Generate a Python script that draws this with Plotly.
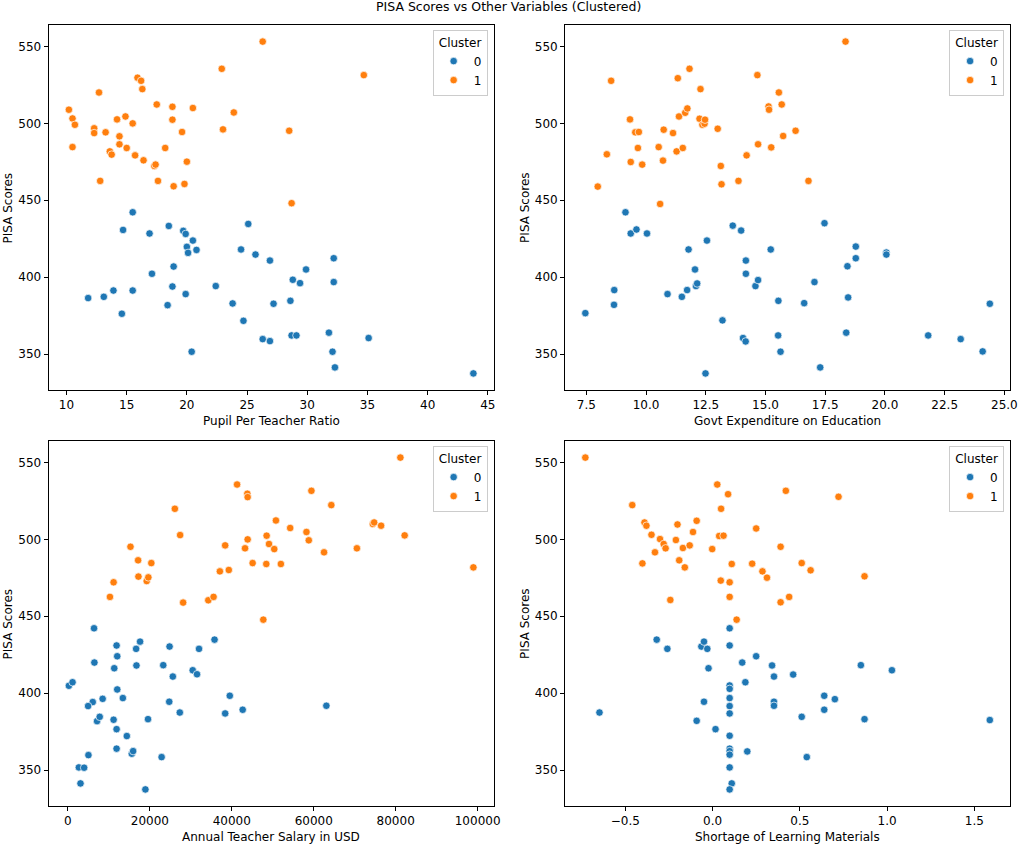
import plotly.graph_objects as go

# ---------------- data ----------------
# Panel 1: Pupil Per Teacher Ratio
pupil_c0_x = [15.5, 14.7, 18.5, 16.9, 19.7, 19.9, 20.5, 20.0, 20.1, 20.8, 24.5, 25.1, 25.7, 18.9, 17.1,
              18.8, 22.4, 19.9, 15.5, 13.9, 13.1, 11.8, 18.4, 23.8, 14.6, 24.7, 20.4,
              26.9, 32.2, 29.9, 28.8, 29.4, 32.2, 27.2, 28.6, 26.3, 26.9, 28.7, 29.1, 31.8, 35.1, 32.1, 32.3, 43.8]
pupil_c0_y = [442.2, 430.7, 433.3, 428.4, 430.1, 428.1, 423.8, 419.7, 415.8, 417.7, 418.0, 434.6, 414.7, 406.9, 402.2,
              393.9, 394.2, 389.0, 391.3, 391.3, 387.2, 386.4, 381.8, 382.9, 376.2, 371.6, 351.5,
              410.8, 412.3, 405.0, 398.3, 396.1, 396.8, 382.7, 384.6, 359.7, 358.4, 362.1, 362.1, 363.9, 360.4, 351.5, 341.3, 337.4]
pupil_c1_x = [10.2, 10.5, 10.7, 10.5, 12.7, 12.3, 12.3, 13.25, 12.8, 13.6, 13.75, 14.2, 14.9, 14.4, 14.4,
              15.0, 15.5, 15.7, 15.9, 16.2, 16.3, 16.4, 17.3, 17.4, 17.6, 17.5, 18.2, 18.8, 18.8, 18.9,
              19.6, 19.8, 20.0, 20.5, 22.9, 23.0, 23.9, 26.3, 34.7, 28.5, 28.7]
pupil_c1_y = [508.9, 503.2, 499.1, 484.6, 520.1, 496.8, 493.7, 494.2, 462.6, 481.8, 479.7, 502.6, 504.5, 491.6, 486.4,
              484.0, 500.0, 479.2, 529.7, 527.7, 522.3, 476.0, 472.3, 473.2, 462.6, 512.3, 484.0, 510.8, 502.4, 459.1,
              494.4, 460.6, 475.1, 510.0, 535.5, 496.1, 507.1, 553.2, 531.4, 495.2, 448.1]

# Panel 2: Govt Expenditure on Education
govt_c0_x = [7.46, 8.67, 8.66, 9.14, 9.36, 9.60, 10.04, 10.90, 11.50, 11.72, 11.78, 12.05, 12.09, 12.14, 12.55,
             13.20, 12.49, 13.63, 13.98, 14.18, 14.18, 14.06, 14.17, 14.58, 14.69,
             15.22, 17.47, 18.78, 18.78, 20.06, 20.06, 18.43, 17.05, 15.54, 16.62, 18.46, 24.39, 15.53, 18.38,
             21.81, 23.17, 24.09, 15.63, 17.29]
govt_c0_y = [376.6, 391.6, 382.0, 442.2, 428.4, 431.0, 428.4, 389.0, 387.2, 391.6, 418.0, 405.0, 394.2, 395.9, 423.8,
             371.9, 337.4, 433.5, 430.3, 410.8, 402.2, 360.4, 358.2, 394.2, 398.1,
             418.0, 435.1, 419.9, 412.3, 416.0, 414.7, 407.1, 396.8, 384.6, 383.1, 386.8, 382.7, 362.1, 363.9,
             362.1, 359.7, 351.7, 351.5, 341.3]
govt_c1_x = [8.54, 8.36, 7.98, 9.33, 9.55, 9.70, 9.66, 9.36, 9.84, 10.59, 10.53, 10.74, 10.71, 11.13, 11.28,
             11.54, 11.33, 11.38, 11.64, 11.73, 11.82, 12.28, 12.24, 12.36, 12.45, 12.47, 13.0, 13.13, 13.16,
             13.87, 14.21, 14.66, 14.69, 18.35, 15.56, 15.13, 15.15, 15.68, 16.26, 15.74, 15.24, 16.80]
govt_c1_y = [527.7, 479.9, 458.9, 502.6, 494.2, 494.4, 484.0, 474.9, 473.2, 447.6, 484.6, 495.9, 475.8, 493.7, 481.8,
             484.0, 529.4, 504.5, 506.9, 509.7, 535.5, 522.3, 503.0, 499.1, 499.8, 502.4, 496.5, 472.3, 460.4,
             462.6, 479.2, 531.4, 486.4, 553.2, 520.1, 511.0, 508.9, 512.3, 495.2, 491.8, 484.4, 462.6]

# Panel 3: Annual Teacher Salary in USD
salary_c0_x = [240, 1130, 6380, 6460, 6060, 4930, 8480, 7110, 7760, 2670, 3960, 3070, 5010, 11880, 12040,
               11310, 12040, 13410, 11150, 11880, 11880, 14380, 15590, 15920, 16650, 17610, 16730, 19550, 18910,
               22870, 23270, 24810, 25610, 24730, 27310, 30460, 31510, 32000, 35790, 39510, 38380, 42660, 63080]
salary_c0_y = [404.8, 407.1, 442.2, 419.9, 394.2, 391.6, 396.3, 381.8, 384.6, 351.7, 351.5, 341.3, 359.7, 431.0, 424.0,
               416.2, 402.4, 396.8, 382.7, 376.6, 363.9, 372.1, 360.6, 362.3, 428.8, 433.5, 418.0, 383.1, 337.4,
               358.4, 418.2, 430.3, 410.8, 394.4, 387.4, 414.9, 412.3, 428.8, 434.8, 398.3, 386.8, 389.2, 391.8]
salary_c1_x = [10260, 11150, 15270, 17130, 17210, 19230, 19630, 20360, 26100, 27390, 28120, 34260, 35550, 37090,
               38380, 39270, 41290, 43230, 43790, 43870, 43870, 45090,
               47690, 48500, 49080, 50360, 50770, 48420, 51980, 54250, 58220, 58790, 59430, 62510, 64290, 70530,
               74420, 74740, 76440, 81140, 82190, 98960]
salary_c1_y = [462.6, 472.1, 495.2, 486.4, 475.8, 472.9, 475.3, 484.6, 519.9, 502.8, 458.9, 460.4, 462.6, 479.2,
               496.1, 480.1, 535.7, 494.2, 529.7, 527.5, 500.0, 484.6,
               447.8, 502.4, 497.0, 493.7, 512.3, 484.0, 484.0, 507.4, 504.8, 499.4, 531.6, 491.6, 522.3, 494.2,
               510.0, 511.0, 508.9, 553.2, 502.6, 481.8]

# Panel 4: Shortage of Learning Materials
short_c0_x = [-0.648, -0.320, -0.259, -0.064, -0.049, -0.030, -0.023, -0.049, -0.091, 0.017, 0.098, 0.098, 0.098,
              0.098, 0.098, 0.098, 0.098, 0.098, 0.098, 0.098, 0.098, 0.098, 0.110, 0.098, 0.170, 0.188, 0.199,
              0.250, 0.341, 0.352, 0.462, 0.352, 0.352, 0.511, 0.540, 0.640, 0.640, 0.701, 0.850, 0.871, 1.028, 1.589]
short_c0_y = [387.4, 434.8, 428.8, 430.3, 433.5, 428.8, 416.2, 394.4, 382.0, 376.6, 442.2, 431.0, 405.0,
              402.8, 396.8, 391.6, 386.8, 372.3, 363.9, 362.3, 360.0, 351.7, 341.3, 337.4, 419.9, 407.1, 362.1,
              424.0, 418.0, 410.8, 412.1, 394.4, 391.8, 384.6, 358.4, 398.3, 389.2, 396.1, 418.2, 383.1, 414.9, 382.5]
short_c1_x = [-0.729, -0.460, -0.390, -0.379, -0.350, -0.402, -0.330, -0.301, -0.280, -0.269, -0.242, -0.210,
              -0.201, -0.191, -0.170, -0.159, -0.131, -0.112, -0.091, -0.002, 0.027, 0.038, 0.063, 0.049, 0.089,
              0.047, 0.098, 0.098, 0.110, 0.138, 0.227, 0.250, 0.286,
              0.312, 0.390, 0.420, 0.511, 0.562, 0.439, 0.390, 0.722, 0.871]
short_c1_y = [553.2, 522.3, 511.0, 508.9, 503.0, 484.4, 491.6, 500.2, 497.0, 494.2, 460.6, 499.6,
              509.7, 486.4, 494.4, 481.8, 496.1, 504.8, 512.1, 493.7, 535.7, 502.2, 502.4, 519.9, 529.4,
              473.2, 472.1, 462.6, 484.0, 447.8, 484.2, 507.1, 479.2,
              475.1, 495.2, 531.6, 484.6, 479.9, 462.6, 459.1, 527.7, 476.0]

x_labels = ["Pupil Per Teacher Ratio", "Govt Expenditure on Education",
            "Annual Teacher Salary in USD", "Shortage of Learning Materials"]
y_label = "PISA Scores"
title_text = "PISA Scores vs Other Variables (Clustered)"
cluster_names = ["0", "1"]
y_ticks = [350, 400, 450, 500, 550]
x_ticks = [
    [10, 15, 20, 25, 30, 35, 40, 45],
    [7.5, 10.0, 12.5, 15.0, 17.5, 20.0, 22.5, 25.0],
    [0, 20000, 40000, 60000, 80000, 100000],
    [-0.5, 0.0, 0.5, 1.0, 1.5],
]
x_tickformats = ["d", ".1f", "d", ".1f"]

panels = [
    (pupil_c0_x, pupil_c0_y, pupil_c1_x, pupil_c1_y),
    (govt_c0_x, govt_c0_y, govt_c1_x, govt_c1_y),
    (salary_c0_x, salary_c0_y, salary_c1_x, salary_c1_y),
    (short_c0_x, short_c0_y, short_c1_x, short_c1_y),
]

# ---------------- layout geometry ----------------
W, H = 1024, 845
FONT = "DejaVu Sans"
FS = 12
colors = ["#1f77b4", "#ff7f0e"]
# pixel boxes of the four axes: (left, right, top, bottom)
boxes = [(49, 497, 25, 390), (569, 1017, 25, 390), (49, 497, 441, 806), (569, 1017, 441, 806)]


def pad(lo, hi, f=0.05):
    d = hi - lo
    return [lo - d * f, hi + d * f]


fig = go.Figure()
annotations = []
all_y = []
for p in panels:
    all_y += p[1] + p[3]
yr = pad(min(all_y), max(all_y))

for i, (x0, y0, x1, y1) in enumerate(panels):
    n = "" if i == 0 else str(i + 1)
    leg = "legend" + n
    for k, (xs, ys) in enumerate([(x0, y0), (x1, y1)]):
        fig.add_trace(go.Scatter(
            x=xs, y=ys, mode="markers", name=cluster_names[k],
            marker=dict(color=colors[k], size=7.5, line=dict(color="white", width=0.7)),
            xaxis="x" + n, yaxis="y" + n, legend=leg, showlegend=True,
        ))
    l, r, t, b = boxes[i]
    xr = pad(min(x0 + x1), max(x0 + x1))
    axcommon = dict(showline=True, linecolor="black", linewidth=1, mirror=True, ticks="outside",
                    ticklen=4, tickwidth=1, tickcolor="black", showgrid=False, zeroline=False,
                    tickfont=dict(family=FONT, size=FS, color="black"))
    fig.layout["xaxis" + n] = dict(domain=[l / W, r / W], range=xr, anchor="y" + n,
                                    tickvals=x_ticks[i], tickformat=x_tickformats[i], **axcommon)
    fig.layout["yaxis" + n] = dict(domain=[1 - b / H, 1 - t / H], range=yr, anchor="x" + n,
                                    tickvals=y_ticks, tickformat="d", **axcommon)
    fig.layout[leg] = dict(
        x=(r - 6) / W, y=1 - (t + 5) / H, xanchor="right", yanchor="top",
        bgcolor="rgba(255,255,255,0.8)", bordercolor="#cccccc", borderwidth=1,
        font=dict(family=FONT, size=FS, color="black"),
        title=dict(text="Cluster", side="top center", font=dict(family=FONT, size=FS, color="black")),
        itemwidth=30, tracegroupgap=0,
    )
    # axis titles
    annotations.append(dict(text=x_labels[i], x=(l + r) / 2 / W, y=1 - (b + 31) / H, xref="paper",
                            yref="paper", showarrow=False, xanchor="center", yanchor="middle",
                            font=dict(family=FONT, size=FS, color="black")))
    annotations.append(dict(text=y_label, x=(l - 41) / W, y=1 - (t + b) / 2 / H, xref="paper",
                            yref="paper", showarrow=False, xanchor="center", yanchor="middle",
                            textangle=-90, font=dict(family=FONT, size=FS, color="black")))

annotations.append(dict(text=title_text, x=0.5, y=1 - 7 / H, xref="paper", yref="paper",
                        showarrow=False, xanchor="center", yanchor="middle",
                        font=dict(family=FONT, size=12.5, color="black")))

fig.update_layout(width=W, height=H, margin=dict(l=0, r=0, t=0, b=0),
                  paper_bgcolor="white", plot_bgcolor="white", annotations=annotations,
                  font=dict(family=FONT, size=FS, color="black"))

fig.write_html("out.html", config={"displayModeBar": False},
               post_script="document.body.style.margin='0';document.body.style.overflow='hidden';")
